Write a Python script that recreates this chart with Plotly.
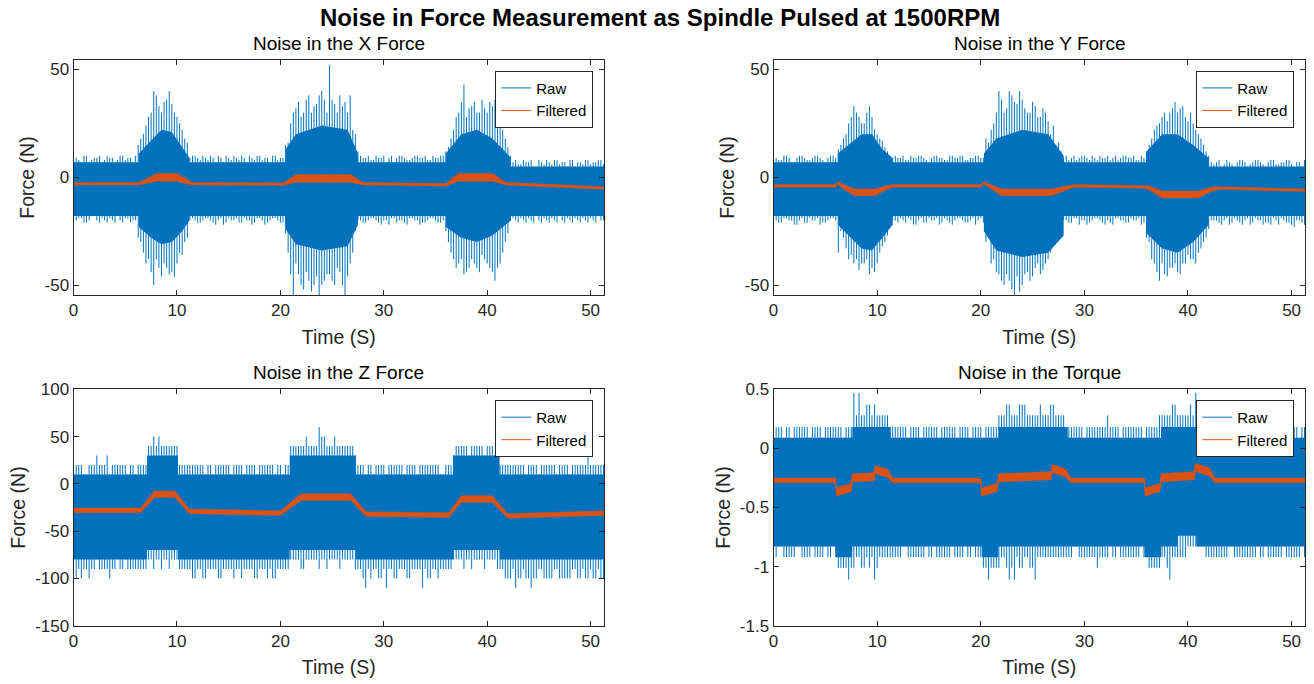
import numpy as np
import plotly.graph_objects as go

# ---------------- data ----------------
# sample times of the raw-signal extreme readings (every 0.5 s, two interleaved sets)
t_spk = np.arange(0.25, 51.5, 0.5)
t_spk2 = np.arange(0.5, 51.75, 0.5)

# ---- X force ----
x_core_t = [0, 6.3, 6.3, 7.5, 8.5, 9.5, 10.5, 11.2, 11.2, 20.5, 20.5, 21.5, 24, 26.5, 27.5, 27.5,
            36, 36, 37.5, 39, 40.5, 42.3, 42.3, 51.4]
x_core_hi = [7, 7, 11, 17, 22, 21, 14, 9, 7, 7, 13, 20, 24, 22, 11, 7, 7, 11, 20, 22, 18, 9, 5, 5]
x_core_lo = [-18, -18, -23, -28, -31, -30, -25, -20, -18, -18, -24, -31, -34, -32, -22, -18,
             -18, -23, -28, -30, -27, -20, -18, -18]
x_spk_hi = ([9, 7, 10, 8, 9, 7, 10, 9, 8, 10, 9, 7]
            + [15, 20, 28, 40, 33, 35, 40, 30, 25, 18, 9]
            + [10, 8, 9, 10, 7, 9, 10, 8, 9, 10, 7, 9, 10, 8, 9, 10, 8, 9]
            + [16, 30, 35, 30, 38, 33, 38, 36, 52, 34, 38, 35, 38, 20]
            + [10, 9, 8, 10, 9, 7, 10, 9, 10, 8, 9, 10, 9, 8, 10, 9, 10]
            + [14, 22, 30, 43, 32, 35, 30, 32, 35, 36, 26, 18, 10]
            + [8, 6, 7, 8, 5, 7, 8, 6, 8, 7, 5, 8, 7, 6, 8, 7, 8, 6])
x_spk_lo = ([-20, -19, -21, -18, -20, -19, -21, -20, -18, -21, -19, -20]
            + [-28, -35, -38, -50, -42, -40, -45, -46, -35, -30, -20]
            + [-20, -21, -19, -20, -22, -19, -21, -20, -19, -21, -20, -22, -19, -20, -21, -19, -20, -21]
            + [-35, -55, -45, -52, -48, -50, -56, -48, -45, -50, -44, -55, -40, -25]
            + [-20, -21, -19, -20, -22, -20, -19, -21, -20, -22, -19, -20, -21, -20, -19, -21, -20]
            + [-30, -38, -40, -45, -42, -40, -44, -38, -42, -48, -40, -30, -20]
            + [-20, -19, -21, -20, -18, -21, -20, -19, -21, -20, -19, -21, -20, -19, -21, -20, -18, -20])
x_spk_hi2 = ([8, 10, 7, 9, 10, 8, 9, 7, 10, 8, 9, 10]
             + [18, 24, 30, 38, 30, 36, 34, 28, 22, 16, 10]
             + [9, 10, 8, 9, 10, 7, 9, 10, 8, 9, 10, 8, 10, 9, 7, 10, 9, 15]
             + [25, 32, 28, 36, 30, 34, 40, 30, 36, 30, 33, 30, 22, 12]
             + [9, 10, 8, 9, 10, 9, 7, 10, 9, 8, 10, 9, 10, 8, 9, 10, 12]
             + [18, 28, 35, 28, 33, 30, 36, 30, 33, 28, 22, 14, 7]
             + [6, 8, 7, 5, 8, 6, 7, 8, 6, 7, 8, 5, 7, 8, 6, 7, 8, 6])
x_spk_lo2 = ([-19, -21, -20, -18, -21, -20, -19, -21, -20, -19, -21, -20]
             + [-30, -40, -44, -38, -46, -42, -44, -40, -36, -28, -19]
             + [-21, -20, -19, -21, -20, -22, -19, -20, -21, -19, -20, -21, -19, -22, -20, -19, -21, -26]
             + [-45, -40, -50, -44, -53, -46, -50, -45, -48, -42, -50, -46, -35, -20]
             + [-21, -20, -19, -21, -20, -22, -19, -20, -21, -19, -20, -22, -21, -19, -20, -21, -25]
             + [-35, -42, -38, -44, -38, -42, -36, -40, -44, -42, -35, -26, -19]
             + [-21, -20, -19, -21, -20, -19, -21, -20, -18, -21, -20, -19, -21, -20, -19, -21, -20, -19])
x_f_t = [0, 6.3, 7.2, 8, 10, 11, 11.5, 20.3, 21.5, 26.8, 28, 36, 37.2, 40.5, 41.8, 51.4]
x_f_mid = [-3, -3, -1.5, 0, 0, -2, -3, -3.2, -0.5, -0.5, -3, -3.5, 0, 0, -3, -5]
x_f_hi = [-2.4, -2.4, -0.3, 1.8, 1.8, -0.8, -2.4, -2.6, 1.3, 1.3, -2.4, -2.9, 1.8, 1.8, -2.4, -4.4]
x_f_lo = [-3.6, -3.6, -2.7, -1.8, -1.8, -3.2, -3.6, -3.8, -2.3, -2.3, -3.6, -4.1, -1.8, -1.8, -3.6, -5.6]

# ---- Y force ----
y_core_t = [0, 6.2, 6.2, 7.5, 8.5, 9.5, 10.5, 11.5, 11.5, 20.3, 20.3, 21.5, 24, 26.5, 28, 28,
            36, 36, 37.5, 39, 40.5, 42, 42, 51.4]
y_core_hi = [7, 7, 11, 16, 20, 20, 13, 9, 7, 7, 11, 18, 22, 20, 10, 7, 7, 12, 20, 20, 15, 9, 5, 5]
y_core_lo = [-18, -18, -22, -28, -33, -34, -28, -22, -18, -18, -25, -34, -37, -35, -27, -18,
             -18, -26, -33, -35, -30, -22, -18, -18]
y_spk_hi = ([9, 8, 10, 7, 9, 10, 8, 9, 10, 8, 9, 10]
            + [13, 18, 25, 33, 28, 25, 33, 22, 18, 14, 9]
            + [10, 9, 8, 10, 9, 10, 8, 9, 10, 9, 8, 10, 9, 10, 8, 9, 10, 9]
            + [16, 25, 40, 30, 40, 35, 40, 32, 30, 33, 28, 30, 20, 15]
            + [12, 10, 9, 8, 10, 9, 10, 8, 9, 10, 9, 8, 10, 9, 10, 8, 9]
            + [15, 22, 25, 30, 30, 35, 32, 28, 30, 22, 18, 12, 7]
            + [7, 5, 8, 6, 7, 8, 5, 7, 8, 6, 7, 8, 6, 7, 8, 5, 7, 8])
y_spk_lo = ([-20, -21, -19, -20, -22, -19, -21, -20, -19, -21, -20, -19]
            + [-35, -28, -38, -40, -43, -40, -45, -44, -35, -30, -22]
            + [-20, -19, -21, -20, -22, -19, -21, -20, -19, -21, -20, -22, -19, -20, -21, -19, -20, -21]
            + [-28, -38, -45, -50, -48, -55, -53, -45, -48, -42, -45, -40, -35, -25]
            + [-25, -20, -21, -19, -20, -22, -20, -19, -21, -20, -22, -19, -20, -21, -20, -19, -21]
            + [-30, -40, -48, -45, -42, -40, -45, -40, -38, -40, -33, -28, -20]
            + [-20, -22, -19, -21, -20, -22, -19, -21, -20, -22, -21, -19, -22, -20, -21, -23, -20, -22])
y_spk_hi2 = ([8, 10, 9, 7, 10, 9, 8, 10, 9, 7, 10, 9]
             + [15, 20, 28, 30, 25, 30, 28, 20, 17, 12, 9]
             + [9, 10, 8, 9, 10, 9, 7, 10, 9, 8, 10, 9, 10, 8, 9, 10, 9, 18]
             + [22, 30, 36, 32, 38, 34, 36, 30, 35, 28, 32, 26, 24, 16]
             + [9, 8, 10, 9, 10, 8, 9, 10, 9, 8, 10, 9, 10, 9, 8, 10, 12]
             + [18, 24, 28, 26, 32, 30, 33, 26, 25, 20, 15, 10, 6]
             + [8, 6, 7, 5, 8, 7, 6, 8, 7, 5, 8, 6, 7, 8, 6, 7, 5, 8])
y_spk_lo2 = ([-21, -19, -20, -22, -20, -21, -19, -20, -22, -21, -19, -20]
             + [-25, -33, -36, -38, -40, -38, -42, -40, -32, -27, -20]
             + [-21, -20, -19, -22, -20, -21, -19, -20, -22, -19, -21, -20, -19, -21, -20, -22, -19, -30]
             + [-40, -44, -48, -45, -52, -46, -50, -44, -46, -40, -43, -38, -30, -22]
             + [-20, -21, -19, -22, -20, -21, -19, -20, -22, -21, -19, -20, -21, -19, -20, -22, -28]
             + [-38, -44, -40, -46, -42, -44, -40, -36, -38, -35, -30, -24, -20]
             + [-21, -20, -22, -19, -21, -20, -22, -19, -20, -21, -22, -20, -19, -21, -22, -20, -21, -19])
y_f_t = [0, 6.0, 6.2, 6.6, 7.8, 9.8, 10.8, 11.5, 20.0, 20.3, 20.8, 22, 26.8, 28.2, 29, 35.8,
         36.3, 37.5, 41, 42.3, 43, 51.4]
y_f_mid = [-4, -4, -2.5, -4, -7, -7, -5, -4, -4, -2.5, -4, -7, -7, -5, -4, -4.5, -5, -8, -8,
           -5.5, -5, -6]
y_f_hi = [-3.4, -3.4, -1.9, -3, -5.4, -5.4, -4, -3.4, -3.4, -1.9, -3, -5.4, -5.4, -4, -3.4,
          -3.9, -4, -6.4, -6.4, -4.5, -4.4, -5.4]
y_f_lo = [-4.6, -4.6, -3.1, -5, -8.6, -8.6, -6, -4.6, -4.6, -3.1, -5, -8.6, -8.6, -6, -4.6,
          -5.1, -6, -9.6, -9.6, -6.5, -5.6, -6.6]

# ---- Z force ----
z_core_t = [0, 7.1, 7.1, 10.1, 10.1, 20.9, 20.9, 27.3, 27.3, 36.7, 36.7, 41.2, 41.2, 51.4]
z_core_hi = [10, 10, 30, 30, 10, 10, 30, 30, 10, 10, 30, 30, 10, 10]
z_core_lo = [-80, -80, -70, -70, -80, -80, -70, -70, -80, -80, -70, -70, -80, -80]
z_spk_hi = ([20, 20, 10, 20, 30, 20, 30, 20, 20, 20, 10, 20]
            + [20, 20, 40, 50, 50, 40, 40, 40, 20, 20, 20]
            + [20, 20, 10, 20, 20, 20, 20, 10, 20, 20, 20, 20, 10, 20, 20, 20, 20, 10]
            + [20, 40, 40, 40, 40, 40, 60, 50, 40, 50, 40, 40, 40, 30]
            + [20, 10, 20, 20, 20, 10, 20, 20, 20, 20, 20, 10, 20, 20, 20, 20, 10]
            + [20, 30, 40, 40, 30, 40, 40, 30, 40, 30, 20, 20, 20]
            + [20, 20, 10, 20, 20, 20, 20, 20, 10, 20, 20, 20, 20, 20, 30, 20, 20, 20])
z_spk_lo = ([-100, -100, -90, -90, -80, -90, -90, -90, -80, -90, -90, -90]
            + [-90, -90, -80, -90, -80, -80, -90, -80, -90, -90, -90]
            + [-100, -90, -100, -90, -90, -100, -90, -90, -90, -100, -90, -90, -100, -90, -100, -100, -90, -90]
            + [-90, -80, -80, -90, -80, -80, -90, -80, -80, -80, -90, -80, -80, -90]
            + [-90, -110, -100, -90, -100, -110, -90, -100, -90, -100, -90, -90, -110, -100, -90, -100, -90]
            + [-90, -80, -80, -90, -80, -80, -80, -90, -80, -80, -90, -100, -100]
            + [-110, -100, -100, -110, -100, -90, -100, -100, -90, -100, -100, -90, -100, -90, -100, -100, -90, -100])
z_spk_hi2 = ([20, 10, 20, 20, 20, 20, 10, 20, 20, 20, 20, 10]
             + [20, 20, 40, 40, 40, 40, 40, 40, 20, 20, 20]
             + [20, 20, 20, 10, 20, 20, 20, 20, 20, 10, 20, 20, 20, 20, 20, 10, 20, 20]
             + [40, 40, 40, 50, 40, 40, 50, 40, 40, 40, 40, 40, 40, 20]
             + [20, 20, 10, 20, 20, 20, 20, 20, 10, 20, 20, 20, 20, 20, 20, 10, 20]
             + [20, 40, 40, 40, 40, 40, 40, 40, 40, 30, 20, 20, 20]
             + [20, 20, 20, 20, 10, 20, 20, 20, 20, 20, 10, 20, 20, 20, 20, 20, 20, 10])
z_spk_lo2 = ([-90, -90, -100, -90, -90, -90, -100, -90, -90, -80, -90, -90]
             + [-90, -90, -80, -80, -90, -80, -80, -80, -90, -90, -100]
             + [-90, -100, -90, -90, -100, -90, -90, -100, -90, -90, -90, -100, -90, -90, -90, -100, -90, -90]
             + [-80, -80, -90, -80, -80, -80, -80, -90, -80, -80, -80, -80, -80, -90]
             + [-100, -90, -90, -100, -90, -90, -100, -90, -90, -100, -90, -90, -90, -100, -90, -90, -90]
             + [-90, -80, -80, -80, -90, -80, -80, -80, -80, -90, -90, -100, -90]
             + [-100, -90, -100, -100, -90, -100, -100, -90, -100, -100, -100, -90, -100, -100, -90, -100, -100, -90])
z_f_t = [0, 6.5, 7.8, 9.8, 11.2, 20.0, 22.0, 26.8, 28.3, 36.3, 37.5, 40.5, 42.0, 51.4]
z_f_mid = [-28, -28, -11, -11, -29, -31, -14, -14, -32, -33, -16, -16, -34, -31]
z_f_hi = [-25.5, -25.5, -7.5, -7.5, -26.5, -28.5, -10.5, -10.5, -29.5, -30.5, -12.5, -12.5, -31.5, -28.5]
z_f_lo = [-30.5, -30.5, -14.5, -14.5, -31.5, -33.5, -17.5, -17.5, -34.5, -35.5, -19.5, -19.5, -36.5, -33.5]

# ---- Torque ----
q_core_t = [0, 7.6, 7.6, 11.3, 11.3, 21.7, 21.7, 28.4, 28.4, 37.4, 37.4, 42.3, 42.3, 51.4]
q_core_hi = [.09, .09, .18, .18, .09, .09, .18, .18, .09, .09, .18, .18, .09, .09]
q_corelo_t = [0, 6.0, 6.0, 7.6, 7.6, 20.1, 20.1, 21.7, 21.7, 35.8, 35.8, 37.4, 37.4, 39.0, 39.0,
              40.8, 40.8, 51.4]
q_core_lo = [-.83, -.83, -.92, -.92, -.83, -.83, -.92, -.92, -.83, -.83, -.92, -.92, -.83, -.83,
             -.74, -.74, -.83, -.83]
q_spk_hi = ([.18, .18, .18, .09, .18, .18, .18, .18, .18, .09, .18, .18]
            + [.18, .09, .18, .47, .47, .28, .37, .37, .28, .28, .18]
            + [.18, .18, .18, .18, .18, .09, .18, .18, .18, .18, .18, .18, .09, .18, .18, .18, .18, .09]
            + [.18, .18, .28, .28, .37, .28, .37, .37, .28, .28, .37, .28, .37, .28]
            + [.28, .18, .18, .18, .18, .18, .18, .18, .18, .28, .18, .18, .18, .18, .18, .18, .09]
            + [.18, .18, .28, .28, .28, .37, .28, .28, .37, .47, .28, .28, .18]
            + [.18, .18, .09, .18, .18, .18, .18, .18, .18, .09, .18, .18, .18, .18, .18, .18, .09, .18])
q_spk_lo = ([-.92, -.83, -.92, -.92, -.83, -.92, -.92, -.83, -.92, -.92, -.92, -.83]
            + [-1.01, -1.01, -1.11, -1.01, -.92, -1.01, -1.01, -1.11, -.92, -.92, -.92]
            + [-.92, -.92, -.83, -.92, -.92, -.92, -.83, -.92, -.92, -.92, -.92, -.83, -.92, -.92, -.92, -.83, -.92, -1.01]
            + [-1.11, -1.01, -1.01, -.92, -1.11, -1.11, -1.01, -.92, -1.01, -1.11, -.92, -.92, -.92, -.92]
            + [-.92, -.92, -.92, -.83, -.92, -.92, -.92, -1.01, -.92, -.92, -.92, -.83, -.92, -.92, -.92, -.92, -.92]
            + [-1.01, -1.01, -1.01, -.92, -1.11, -.92, -.92, -.92, -.83, -.83, -.83, -.92, -.92]
            + [-.92, -.92, -.92, -.83, -.92, -.92, -.92, -.92, -.83, -.92, -.92, -.92, -.92, -.83, -.92, -.92, -.92, -.92])
q_spk_hi2 = ([.18, .09, .18, .18, .18, .18, .09, .18, .18, .18, .18, .18]
             + [.18, .18, .18, .28, .28, .37, .28, .28, .28, .28, .18]
             + [.18, .18, .09, .18, .18, .18, .18, .18, .09, .18, .18, .18, .18, .18, .09, .18, .18, .18]
             + [.18, .18, .28, .37, .28, .28, .37, .28, .28, .28, .28, .28, .37, .28]
             + [.28, .18, .18, .18, .09, .18, .18, .18, .18, .18, .18, .09, .18, .18, .18, .18, .18]
             + [.18, .18, .28, .28, .37, .28, .28, .28, .28, .37, .28, .28, .18]
             + [.18, .18, .18, .09, .18, .18, .18, .18, .18, .18, .18, .09, .18, .18, .18, .18, .18, .18])
q_spk_lo2 = ([-.83, -.92, -.92, -.92, -.83, -.92, -.92, -.92, -.92, -.83, -.92, -.92]
             + [-1.01, -1.01, -1.01, -.92, -1.01, -.92, -.92, -1.01, -.92, -.92, -.92]
             + [-.92, -.83, -.92, -.92, -.92, -.92, -.92, -.83, -.92, -.92, -.92, -.92, -.92, -.83, -.92, -.92, -.92, -1.01]
             + [-1.01, -1.01, -.92, -1.01, -1.01, -.92, -1.01, -.92, -1.01, -.92, -.92, -.92, -.92, -.92]
             + [-.92, -.92, -.83, -.92, -.92, -.92, -.92, -.92, -.92, -.83, -.92, -.92, -.92, -.92, -.92, -.83, -.92]
             + [-1.01, -1.01, -.92, -1.01, -.92, -.92, -.92, -.83, -.83, -.83, -.83, -.92, -.92]
             + [-.92, -.92, -.83, -.92, -.92, -.92, -.92, -.92, -.92, -.83, -.92, -.92, -.92, -.92, -.92, -.92, -.83, -.92])
q_f_t = [0, 6.0, 6.05, 7.5, 7.6, 9.7, 9.8, 11.0, 11.5, 20.0, 20.05, 21.6, 21.7, 26.8, 26.9, 28.2,
         28.7, 35.8, 35.85, 37.3, 37.4, 40.6, 40.7, 42.1, 42.6, 51.4]
q_f_mid = [-.27, -.27, -.37, -.33, -.25, -.24, -.18, -.21, -.27, -.27, -.37, -.33, -.25, -.23,
           -.17, -.21, -.27, -.27, -.37, -.33, -.25, -.23, -.16, -.20, -.27, -.27]
q_f_hi = [-.25, -.25, -.335, -.295, -.215, -.205, -.145, -.175, -.25, -.25, -.335, -.295, -.215,
          -.195, -.135, -.175, -.25, -.25, -.335, -.295, -.215, -.195, -.125, -.165, -.25, -.25]
q_f_lo = [-.29, -.29, -.405, -.365, -.285, -.275, -.215, -.245, -.29, -.29, -.405, -.365, -.285,
          -.265, -.205, -.245, -.29, -.29, -.405, -.365, -.285, -.265, -.195, -.235, -.29, -.29]

titles = ["Noise in the X Force", "Noise in the Y Force", "Noise in the Z Force", "Noise in the Torque"]
main_title = "Noise in Force Measurement as Spindle Pulsed at 1500RPM"
x_ticks = [0, 10, 20, 30, 40, 50]
y_ticks = [[-50, 0, 50], [-50, 0, 50], [-150, -100, -50, 0, 50, 100], [-1.5, -1, -0.5, 0, 0.5]]
y_ticktext = [["-50", "0", "50"], ["-50", "0", "50"],
              ["-150", "-100", "-50", "0", "50", "100"], ["-1.5", "-1", "-0.5", "0", "0.5"]]
y_ranges = [[-54.6, 54.4], [-54.6, 54.4], [-150, 100], [-1.5, 0.5]]

# ---------------- styling / layout ----------------
BLUE = "#0072BD"
ORANGE = "#D95319"
AX = "#262626"
FONT = "Liberation Sans, Arial, Helvetica, sans-serif"

x_dom = [[0.0560, 0.4597], [0.5887, 0.9932], [0.0560, 0.4597], [0.5887, 0.9932]]
y_dom = [[0.5687, 0.9123], [0.5687, 0.9123], [0.0852, 0.4309], [0.0852, 0.4309]]

panels = [
    (x_core_t, x_core_hi, x_core_t, x_core_lo,
     [(t_spk, x_spk_hi, x_spk_lo), (t_spk2, x_spk_hi2, x_spk_lo2)],
     x_f_t, x_f_mid, x_f_hi, x_f_lo),
    (y_core_t, y_core_hi, y_core_t, y_core_lo,
     [(t_spk, y_spk_hi, y_spk_lo), (t_spk2, y_spk_hi2, y_spk_lo2)],
     y_f_t, y_f_mid, y_f_hi, y_f_lo),
    (z_core_t, z_core_hi, z_core_t, z_core_lo,
     [(t_spk, z_spk_hi, z_spk_lo), (t_spk2, z_spk_hi2, z_spk_lo2)],
     z_f_t, z_f_mid, z_f_hi, z_f_lo),
    (q_core_t, q_core_hi, q_corelo_t, q_core_lo,
     [(t_spk, q_spk_hi, q_spk_lo), (t_spk2, q_spk_hi2, q_spk_lo2)],
     q_f_t, q_f_mid, q_f_hi, q_f_lo),
]

fig = go.Figure()
layout = dict(width=1314, height=684, margin=dict(l=0, r=0, t=0, b=0),
              paper_bgcolor="white", plot_bgcolor="white",
              font=dict(family=FONT, color=AX), showlegend=True, annotations=[])

for k, (ct_hi, c_hi, ct_lo, c_lo, spk_sets, ft, fmid, fhi, flo) in enumerate(panels):
    sfx = "" if k == 0 else str(k + 1)
    xa, ya = "x" + sfx, "y" + sfx
    leg = "legend" + sfx
    # dense core of the raw signal
    fig.add_trace(go.Scatter(
        x=list(ct_hi) + list(ct_lo)[::-1], y=list(c_hi) + list(c_lo)[::-1],
        fill="toself", fillcolor=BLUE, line=dict(width=0, color=BLUE), mode="lines",
        hoverinfo="skip", showlegend=False, xaxis=xa, yaxis=ya))
    # raw extremes as thin vertical strokes
    sx, sy = [], []
    for ts, s_hi, s_lo in spk_sets:
        for t, hi, lo in zip(ts, s_hi, s_lo):
            sx += [float(t), float(t), None]
            sy += [lo, hi, None]
    fig.add_trace(go.Scatter(x=sx, y=sy, mode="lines", line=dict(color=BLUE, width=1),
                             name="Raw", legend=leg, xaxis=xa, yaxis=ya))
    # filtered band
    fig.add_trace(go.Scatter(
        x=list(ft) + list(ft)[::-1], y=list(fhi) + list(flo)[::-1],
        fill="toself", fillcolor=ORANGE, line=dict(width=0.5, color=ORANGE), mode="lines",
        hoverinfo="skip", showlegend=False, xaxis=xa, yaxis=ya))
    fig.add_trace(go.Scatter(x=ft, y=fmid, mode="lines", line=dict(color=ORANGE, width=1),
                             name="Filtered", legend=leg, xaxis=xa, yaxis=ya))

    common = dict(ticks="inside", ticklen=5, tickwidth=1, tickcolor=AX, showline=True,
                  linecolor=AX, linewidth=1, mirror="ticks", showgrid=False, zeroline=False,
                  automargin=False, tickfont=dict(size=17, color=AX, family=FONT))
    layout["xaxis" + sfx] = dict(domain=x_dom[k], range=[0, 51.3], tickvals=x_ticks,
                                 ticktext=[str(v) for v in x_ticks], anchor=ya,
                                 title=dict(text="Time (S)", font=dict(size=19.5, color=AX), standoff=10),
                                 **common)
    layout["yaxis" + sfx] = dict(domain=y_dom[k], range=y_ranges[k], tickvals=y_ticks[k],
                                 ticktext=y_ticktext[k], anchor=xa,
                                 title=dict(text="Force (N)", font=dict(size=19.5, color=AX), standoff=4),
                                 **common)
    layout[leg] = dict(x=x_dom[k][1] - 0.0082, xanchor="right",
                       y=y_dom[k][1] - 0.0156, yanchor="top",
                       bgcolor="white", bordercolor=AX, borderwidth=1,
                       font=dict(size=15, color="#000000", family=FONT),
                       tracegroupgap=0)
    layout["annotations"].append(dict(
        text=titles[k], x=(x_dom[k][0] + x_dom[k][1]) / 2, y=y_dom[k][1] + 0.024,
        xref="paper", yref="paper", xanchor="center", yanchor="middle", showarrow=False,
        font=dict(size=19, color="#000000", family=FONT)))

layout["annotations"].append(dict(
    text="<b>" + main_title + "</b>", x=0.502, y=0.9737, xref="paper", yref="paper",
    xanchor="center", yanchor="middle", showarrow=False,
    font=dict(size=24, color="#000000", family=FONT)))

fig.update_layout(**layout)
fig.write_html("out.html", config={"displayModeBar": False},
               post_script="document.body.style.margin='0px';document.body.style.overflow='hidden';")
